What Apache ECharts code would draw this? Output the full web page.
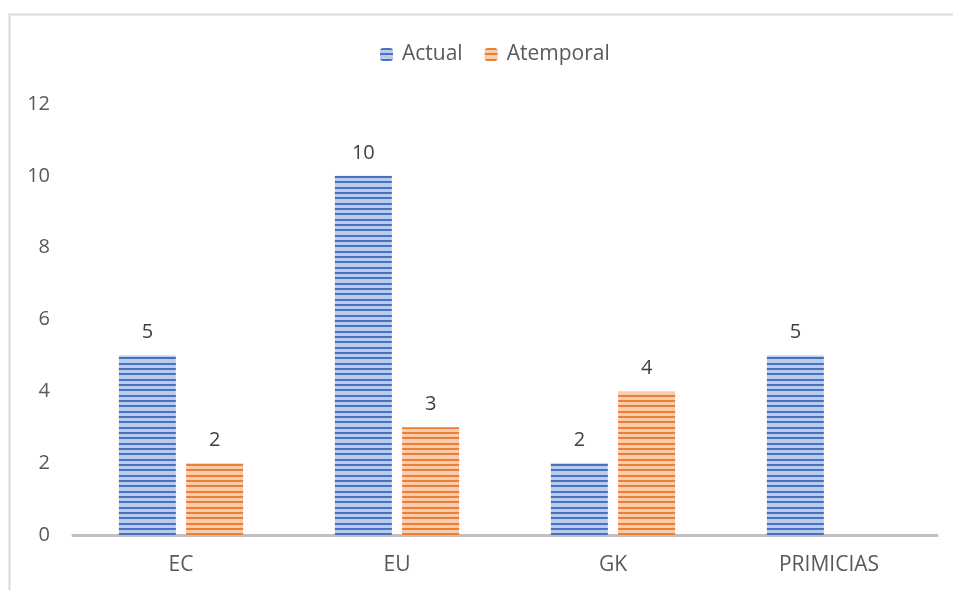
<!DOCTYPE html>
<html>
<head>
<meta charset="utf-8">
<script src="https://cdn.jsdelivr.net/npm/echarts@6/dist/echarts.min.js"></script>
<style>html,body{margin:0;padding:0;background:#fff}#c{width:953px;height:590px}</style>
</head>
<body>
<div id="c"></div>
<script>
const categories = ['EC', 'EU', 'GK', 'PRIMICIAS'];
const actual = [5, 10, 2, 5];
const atemporal = [2, 3, 4, null];
const yTicks = [0, 2, 4, 6, 8, 10, 12];

function stripe(dark, light) {
  const c = document.createElement('canvas');
  c.width = 4; c.height = 16;
  const g = c.getContext('2d');
  g.fillStyle = light; g.fillRect(0, 0, 4, 16);
  g.fillStyle = dark;
  g.fillRect(0, 0, 4, 2);
  g.fillRect(0, 5, 4, 2);
  g.fillRect(0, 11, 4, 2);
  return { image: c, repeat: 'repeat' };
}
const bluePat = stripe('#4472C4', '#bccbeb');
const orangePat = stripe('#ED7D31', '#f8ccae');

const FONT = 'Open Sans, sans-serif';
const chart = echarts.init(document.getElementById('c'));
const labelStyle = { show: true, position: 'top', distance: 13, color: '#404040', fontSize: 20, fontFamily: FONT };
chart.setOption({
  animation: false,
  textStyle: { fontFamily: FONT },
  graphic: [{ type: 'rect', shape: { x: 9.5, y: 14.5, width: 1000, height: 1000 }, style: { fill: 'none', stroke: '#d9d9d9', lineWidth: 2 }, silent: true }],
  legend: {
    top: 39, left: 375, itemWidth: 13, itemHeight: 13, itemGap: 22,
    textStyle: { color: '#595959', fontSize: 21, fontFamily: FONT, padding: [0, 0, 0, 4] },
    data: ['Actual', 'Atemporal']
  },
  grid: { left: 73, right: 16, top: 104, bottom: 55 },
  xAxis: {
    type: 'category', data: categories,
    axisLine: { lineStyle: { color: '#BFBFBF', width: 3 } },
    axisTick: { show: false },
    axisLabel: { color: '#595959', fontSize: 21, margin: 20 }
  },
  yAxis: {
    type: 'value', min: yTicks[0], max: yTicks[yTicks.length - 1], interval: 2,
    axisLine: { show: false }, axisTick: { show: false }, splitLine: { show: false },
    axisLabel: { color: '#595959', fontSize: 20, margin: 23 }
  },
  series: [
    { name: 'Actual', type: 'bar', data: actual, barWidth: 57, barGap: '18%', itemStyle: { color: bluePat }, label: labelStyle },
    { name: 'Atemporal', type: 'bar', data: atemporal, barWidth: 57, itemStyle: { color: orangePat }, label: labelStyle }
  ]
});
</script>
</body>
</html>
